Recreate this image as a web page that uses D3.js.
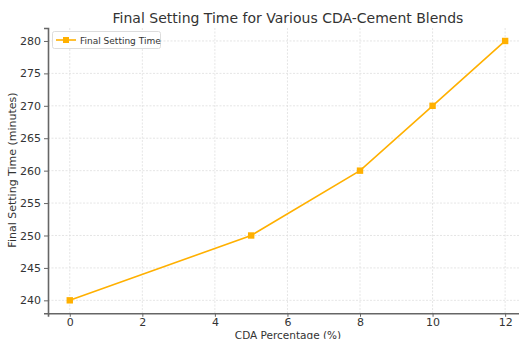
<!DOCTYPE html>
<html><head><meta charset="utf-8">
<script src="https://cdn.jsdelivr.net/npm/d3@7"></script>
<style>body{margin:0;background:#fff}svg{display:block}text{font-family:"DejaVu Sans",sans-serif}</style>
</head><body><svg id="c" width="519" height="339"></svg>
<script>
const cdaPercent = [0, 5, 8, 10, 12];
const finalSettingTime = [240, 250, 260, 270, 280];
const xTicks = [0, 2, 4, 6, 8, 10, 12];
const yTicks = [240, 245, 250, 255, 260, 265, 270, 275, 280];
const titleText = "Final Setting Time for Various CDA-Cement Blends";
const xLabel = "CDA Percentage (%)";
const yLabel = "Final Setting Time (minutes)";
const seriesName = "Final Setting Time";

const color = "#FFB000";
const svg = d3.select("#c");
const x = d3.scaleLinear().domain([-0.6, 12.6]).range([48, 526.9]);
const y = d3.scaleLinear().domain([238, 282]).range([313.3, 28]);
const g = svg.append("g");
// grid
g.selectAll(".gx").data(xTicks).join("line")
 .attr("x1", d=>x(d)).attr("x2", d=>x(d)).attr("y1", y(282)).attr("y2", y(238))
 .attr("stroke", "#dedede").attr("stroke-width", 0.8).attr("stroke-dasharray", "2,1.5");
g.selectAll(".gy").data(yTicks).join("line")
 .attr("x1", x(-0.6)).attr("x2", x(12.6)).attr("y1", d=>y(d)).attr("y2", d=>y(d))
 .attr("stroke", "#dedede").attr("stroke-width", 0.8).attr("stroke-dasharray", "2,1.5");
// axes
const xa = svg.append("g").attr("transform", `translate(0,${y(238)})`)
 .call(d3.axisBottom(x).tickValues(xTicks).tickSize(3.5).tickPadding(1.5).tickFormat(d3.format("d")));
const ya = svg.append("g").attr("transform", `translate(${x(-0.6)},0)`)
 .call(d3.axisLeft(y).tickValues(yTicks).tickSize(4).tickPadding(3).tickFormat(d3.format("d")));
[xa, ya].forEach(a => {
  a.select(".domain").attr("stroke", "#666").attr("stroke-width", 1.6);
  a.selectAll(".tick line").attr("stroke", "#666").attr("stroke-width", 1);
  a.selectAll(".tick text").attr("fill", "#333").style("font-size", "11px").style("font-family", "DejaVu Sans");
});
// line
const pts = cdaPercent.map((c,i)=>[c, finalSettingTime[i]]);
svg.append("path").datum(pts)
 .attr("d", d3.line().x(d=>x(d[0])).y(d=>y(d[1])))
 .attr("fill", "none").attr("stroke", color).attr("stroke-width", 1.6);
svg.selectAll(".m").data(pts).join("rect")
 .attr("x", d=>x(d[0])-3.2).attr("y", d=>y(d[1])-3.2).attr("width", 6.4).attr("height", 6.4)
 .attr("fill", color);
// title & labels
svg.append("text").attr("x", 288).attr("y", 23).attr("text-anchor", "middle")
 .attr("fill", "#333").style("font-size", "14px").text(titleText);
svg.append("text").attr("x", 288).attr("y", 338.5).attr("text-anchor", "middle")
 .attr("fill", "#333").style("font-size", "10.5px").text(xLabel);
svg.append("text").attr("transform", "translate(16,170) rotate(-90)").attr("text-anchor", "middle")
 .attr("fill", "#333").style("font-size", "11px").text(yLabel);
// legend
const lg = svg.append("g");
lg.append("rect").attr("x", 52.5).attr("y", 31.5).attr("width", 108).attr("height", 17).attr("rx", 2)
 .attr("fill", "#fff").attr("fill-opacity", 0.85).attr("stroke", "#ddd");
lg.append("line").attr("x1", 56).attr("x2", 76).attr("y1", 40).attr("y2", 40).attr("stroke", color).attr("stroke-width", 1.6);
lg.append("rect").attr("x", 63).attr("y", 37).attr("width", 6).attr("height", 6).attr("fill", color);
lg.append("text").attr("x", 80).attr("y", 43.5).attr("fill", "#333").style("font-size", "9px").text(seriesName);
</script></body></html>
